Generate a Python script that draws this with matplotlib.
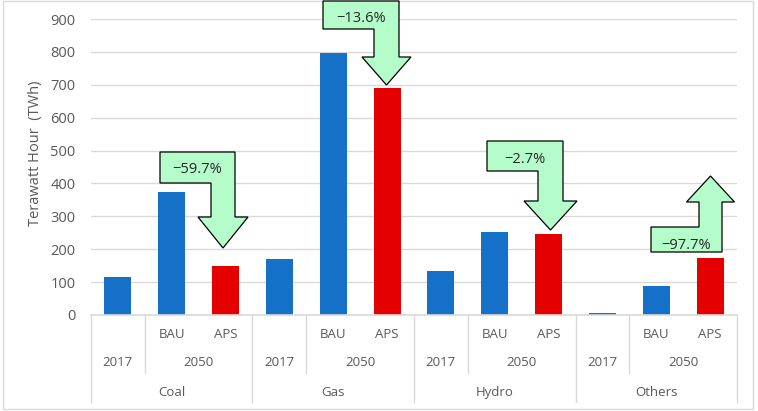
import matplotlib
matplotlib.use("Agg")
import matplotlib.pyplot as plt
import matplotlib.transforms as mtransforms
from matplotlib.patches import Polygon, Rectangle
from matplotlib.lines import Line2D

plt.rcParams['font.family'] = ['Open Sans', 'DejaVu Sans']

# ---- data ----
sources = ["Coal", "Gas", "Hydro", "Others"]
values_2017 = [117, 170, 133, 5]
values_bau = [375, 797, 253, 87]
values_aps = [150, 690, 245, 172]
change_labels = ["\u221259.7%", "\u221213.6%", "\u22122.7%", "\u221297.7%"]
year_labels = ["2017", "2050"]
scenario_labels = ["BAU", "APS"]
y_ticks = [0, 100, 200, 300, 400, 500, 600, 700, 800, 900]

BLUE = "#1570C8"
RED = "#E50000"
GREEN = "#B5FCCB"
GRID = "#D9D9D9"
TXT = "#595959"

W, H = 758, 411
fig = plt.figure(figsize=(W / 100, H / 100), dpi=100)


def fx(x):
    return x / W


def fy(y):
    return 1 - y / H


# plot area in pixels
ax_l, ax_r, ax_t, ax_b = 91, 737, 19, 315
ax = fig.add_axes([fx(ax_l), fy(ax_b), (ax_r - ax_l) / W, (ax_b - ax_t) / H])

n = len(sources)
x_2017 = [3 * i for i in range(n)]
x_bau = [3 * i + 1 for i in range(n)]
x_aps = [3 * i + 2 for i in range(n)]

bw = 0.5
ax.bar(x_2017, values_2017, width=bw, color=BLUE, zorder=2)
ax.bar(x_bau, values_bau, width=bw, color=BLUE, zorder=2)
ax.bar(x_aps, values_aps, width=bw, color=RED, zorder=2)

ax.set_xlim(-0.5, 3 * n - 0.5)
ax.set_ylim(0, 900)
ax.set_yticks(y_ticks)
ax.set_xticks([])
ax.yaxis.grid(True, color=GRID, lw=1)
ax.set_axisbelow(True)
for s in ax.spines.values():
    s.set_visible(False)
ax.tick_params(axis='y', length=0, pad=11, labelsize=10.5, labelcolor=TXT)

fig.text(fx(36), fy(153), "Terawatt Hour  (TWh)", rotation=90,
         ha='center', va='center', fontsize=10.5, color=TXT)

# ---- multi-level category axis ----
bt = mtransforms.blended_transform_factory(ax.transData, fig.transFigure)


def vline(x, y0, y1):
    fig.add_artist(Line2D([x, x], [fy(y0), fy(y1)], transform=bt,
                          color=GRID, lw=1, clip_on=False))


fig.add_artist(Line2D([-0.5, 3 * n - 0.5], [fy(ax_b), fy(ax_b)], transform=bt,
                      color=GRID, lw=1.2, clip_on=False))
for i in range(n + 1):
    vline(3 * i - 0.5, ax_b, 402)
for i in range(n):
    vline(3 * i + 0.5, ax_b, 373)
    fig.text(x_bau[i], fy(334), scenario_labels[0], transform=bt,
             ha='center', va='center', fontsize=9.5, color=TXT)
    fig.text(x_aps[i], fy(334), scenario_labels[1], transform=bt,
             ha='center', va='center', fontsize=9.5, color=TXT)
    fig.text(x_2017[i], fy(362), year_labels[0], transform=bt,
             ha='center', va='center', fontsize=9.5, color=TXT)
    fig.text((x_bau[i] + x_aps[i]) / 2, fy(362), year_labels[1], transform=bt,
             ha='center', va='center', fontsize=9.5, color=TXT)
    fig.text(x_bau[i], fy(392), sources[i], transform=bt,
             ha='center', va='center', fontsize=9.5, color=TXT)

# ---- bent arrow callouts (pixel geometry) ----
# box l, t, r, b, shaft width, head y, head half width, tip y, text dy, direction
arrows = [
    (160, 152, 235, 183, 24, 217, 25, 248, 2, "down"),
    (323, 1, 399, 29, 25, 57, 24.5, 85, 3, "down"),
    (487, 141, 563, 171, 25, 201, 26.5, 230, 3, "down"),
    (651, 227, 722, 252, 23, 202, 24, 176, 6, "up"),
]

for (bl, btop, br, bb, sw, hy, hh, ty, tdy, d), lab in zip(arrows, change_labels):
    tx = br - sw / 2
    sl = br - sw
    if d == "down":
        pts = [(bl, btop), (br, btop), (br, hy), (tx + hh, hy), (tx, ty),
               (tx - hh, hy), (sl, hy), (sl, bb), (bl, bb)]
    else:
        pts = [(bl, bb), (br, bb), (br, hy), (tx + hh, hy), (tx, ty),
               (tx - hh, hy), (sl, hy), (sl, btop), (bl, btop)]
    poly = Polygon([(fx(x), fy(y)) for x, y in pts], closed=True,
                   transform=fig.transFigure, facecolor=GREEN,
                   edgecolor="black", lw=0.9, zorder=5)
    fig.add_artist(poly)
    fig.text(fx((bl + br) / 2), fy((btop + bb) / 2 + tdy), lab,
             ha='center', va='center', fontsize=10.5, color="#262626", zorder=6)

# chart border
fig.add_artist(Rectangle((fx(3), fy(409)), (753 - 3) / W, (409 - 1) / H,
                         transform=fig.transFigure, fill=False,
                         edgecolor=GRID, lw=1, zorder=1))

fig.savefig("out.png", dpi=100)
